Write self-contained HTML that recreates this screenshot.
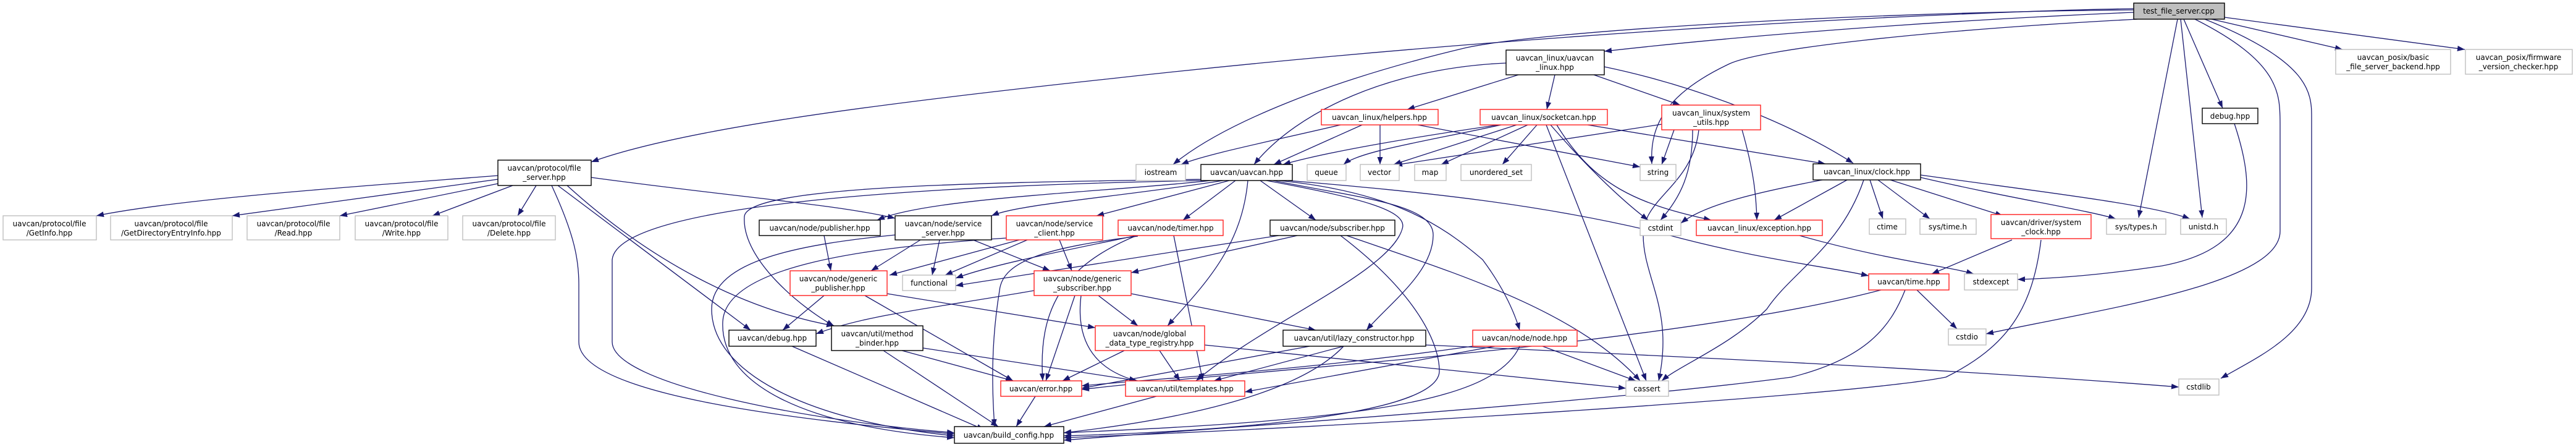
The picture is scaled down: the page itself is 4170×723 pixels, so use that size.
<!DOCTYPE html>
<html><head><meta charset="utf-8"><style>
html,body{margin:0;padding:0;background:#fff;}
svg{display:block;}
text{font-family:"DejaVu Sans","Liberation Sans",sans-serif;font-size:12px;fill:#000;text-anchor:middle;}
.e{fill:none;stroke:#191970;stroke-width:1.3;marker-end:url(#a);}
.k{fill:#fff;stroke:#000;stroke-width:1.4;}
.r{fill:#fff;stroke:#ff2020;stroke-width:1.4;}
.g{fill:#fff;stroke:#bfbfbf;stroke-width:1.4;}
</style></head><body>
<svg width="4170" height="723" viewBox="0 0 4170 723" xmlns="http://www.w3.org/2000/svg">
<defs><marker id="a" markerUnits="userSpaceOnUse" markerWidth="13" markerHeight="10" refX="12" refY="4.5" orient="auto"><path d="M0,0 L12,4.5 L0,9 z" fill="#191970"/></marker></defs>
<g>
<path class="e" d="M3454,14 C3100,20 2400,60 1800,127 C1400,170 1100,210 957,262"/>
<path class="e" d="M3454,16 C3000,20 2500,50 2374,77 C2150,130 1980,200 1899,266"/>
<path class="e" d="M3454,20 C3100,35 2800,60 2597,83"/>
<path class="e" d="M3460,31 C3100,50 2850,80 2800,103 C2700,150 2670,200 2674,265"/>
<path class="e" d="M3525,31 L3462,352"/>
<path class="e" d="M3530,31 L3565,352"/>
<path class="e" d="M3535,31 L3598,175"/>
<path class="e" d="M3553,31 C3690,100 3691,150 3691,200 L3691,374 C3691,460 3400,500 3215,540"/>
<path class="e" d="M3569,31 C3740,100 3742,150 3742,190 L3742,466 C3742,540 3650,580 3595,612"/>
<path class="e" d="M3580,31 L3792,80"/>
<path class="e" d="M3601,28 L3990,80"/>
<path class="e" d="M3617,200 C3650,300 3660,400 3500,430 C3400,445 3330,450 3266,452"/>
<path class="e" d="M2458,121 L2278,177"/>
<path class="e" d="M2517,121 L2504,177"/>
<path class="e" d="M2580,121 L2720,170"/>
<path class="e" d="M2438,102 C2250,110 2100,180 2030,266"/>
<path class="e" d="M2597,108 C2750,140 2900,200 3000,264"/>
<path class="e" d="M2170,202 C2050,230 1950,250 1912,266"/>
<path class="e" d="M2205,202 L2062,266"/>
<path class="e" d="M2234,202 L2234,266"/>
<path class="e" d="M2295,202 L2655,270"/>
<path class="e" d="M2426,202 C2300,220 2150,245 2077,266"/>
<path class="e" d="M2430,202 C2300,230 2200,245 2175,266"/>
<path class="e" d="M2455,202 L2256,266"/>
<path class="e" d="M2473,202 L2333,266"/>
<path class="e" d="M2488,202 L2432,266"/>
<path class="e" d="M2510,202 C2560,260 2620,320 2668,356"/>
<path class="e" d="M2520,202 C2580,300 2650,330 2770,356"/>
<path class="e" d="M2503,202 L2665,616"/>
<path class="e" d="M2570,202 L2955,265"/>
<path class="e" d="M2690,201 L2258,267"/>
<path class="e" d="M2710,210 L2690,266"/>
<path class="e" d="M2740,210 C2740,280 2720,320 2688,356"/>
<path class="e" d="M2820,210 C2840,280 2843,320 2844,356"/>
<path class="e" d="M2750,210 C2740,300 2660,320 2660,380 C2660,450 2710,500 2685,616"/>
<path class="e" d="M1960,292 C1800,310 1500,320 1420,356"/>
<path class="e" d="M1980,292 C1800,320 1650,330 1605,349"/>
<path class="e" d="M1990,292 L1775,349"/>
<path class="e" d="M2000,292 L1915,356"/>
<path class="e" d="M2040,292 L2130,356"/>
<path class="e" d="M2020,292 C2010,400 1950,460 1890,527"/>
<path class="e" d="M2061,292 C2200,320 2320,330 2320,380 C2320,440 2250,490 2212,534"/>
<path class="e" d="M2070,292 C2250,310 2330,360 2400,420 C2430,460 2450,500 2460,534"/>
<path class="e" d="M2085,292 C2300,310 2500,330 2700,380 C2850,420 2950,430 3025,446"/>
<path class="e" d="M2050,292 C2200,320 2280,340 2270,370 C2250,440 2050,520 1936,616"/>
<path class="e" d="M1950,292 C1500,300 1000,330 991,420 L991,553 C991,620 1300,680 1545,700"/>
<path class="e" d="M1449,380 C1300,395 1152,420 1152,500 C1152,600 1300,680 1545,705"/>
<path class="e" d="M1629,385 C1400,400 1175,430 1170,520 C1165,620 1300,690 1545,708"/>
<path class="e" d="M893,300 C930,380 937,420 937,460 L937,553 C937,640 1300,680 1545,702"/>
<path class="e" d="M1950,290 C1600,295 1210,300 1205,350 C1200,420 1300,500 1350,527"/>
<path class="e" d="M1334,381 L1345,438"/>
<path class="e" d="M1490,388 L1410,438"/>
<path class="e" d="M1521,388 L1509,445"/>
<path class="e" d="M1575,388 L1700,438"/>
<path class="e" d="M1650,388 L1440,445"/>
<path class="e" d="M1663,388 L1530,445"/>
<path class="e" d="M1715,388 L1735,438"/>
<path class="e" d="M1840,381 C1700,410 1600,430 1547,450"/>
<path class="e" d="M1840,381 C1720,430 1680,500 1688,616"/>
<path class="e" d="M1900,381 L1947,616"/>
<path class="e" d="M1842,382 C1700,400 1623,420 1618,470 C1605,550 1605,620 1610,690"/>
<path class="e" d="M2070,381 L1547,462"/>
<path class="e" d="M2100,381 L1831,441"/>
<path class="e" d="M2180,381 C2350,440 2550,500 2655,616"/>
<path class="e" d="M2170,381 C2300,480 2330,560 2330,600 C2330,680 1900,700 1722,705"/>
<path class="e" d="M1334,478 L1267,534"/>
<path class="e" d="M1400,478 L1640,616"/>
<path class="e" d="M1436,475 L1773,530"/>
<path class="e" d="M1674,470 C1500,500 1400,510 1321,540"/>
<path class="e" d="M1778,478 L1842,527"/>
<path class="e" d="M1740,478 L1693,616"/>
<path class="e" d="M1750,478 C1740,560 1780,600 1840,616"/>
<path class="e" d="M1831,475 L2130,534"/>
<path class="e" d="M1460,567 L1640,616"/>
<path class="e" d="M1475,560 L1842,616"/>
<path class="e" d="M1430,567 L1616,690"/>
<path class="e" d="M1282,560 L1593,695"/>
<path class="e" d="M1820,567 L1720,616"/>
<path class="e" d="M1877,567 L1910,616"/>
<path class="e" d="M1950,558 L2632,628"/>
<path class="e" d="M2120,560 L1751,628"/>
<path class="e" d="M2175,560 L1965,616"/>
<path class="e" d="M2175,560 C2100,640 1900,680 1722,700"/>
<path class="e" d="M2308,558 C2800,580 3200,600 3527,626"/>
<path class="e" d="M2384,560 C2100,600 1900,610 1751,624"/>
<path class="e" d="M2420,560 L2015,634"/>
<path class="e" d="M2497,560 L2648,616"/>
<path class="e" d="M2460,560 C2420,650 2200,680 1722,700"/>
<path class="e" d="M1676,641 L1645,690"/>
<path class="e" d="M1872,641 L1690,690"/>
<path class="e" d="M2990,291 L2872,356"/>
<path class="e" d="M2955,290 C2850,310 2760,330 2721,361"/>
<path class="e" d="M3027,291 L3048,354"/>
<path class="e" d="M3040,291 L3124,354"/>
<path class="e" d="M3060,291 L3242,349"/>
<path class="e" d="M3109,287 C3250,320 3380,340 3425,354"/>
<path class="e" d="M3109,283 C3300,310 3480,330 3545,354"/>
<path class="e" d="M3017,291 C2980,400 2900,440 2860,500 C2800,560 2720,590 2690,616"/>
<path class="e" d="M2913,381 C3050,420 3150,430 3195,443"/>
<path class="e" d="M3257,388 L3127,443"/>
<path class="e" d="M3304,388 C3290,500 3250,560 3150,610 C3000,640 2200,690 1722,708"/>
<path class="e" d="M3103,469 L3168,532"/>
<path class="e" d="M3045,469 C2700,560 2000,600 1751,630"/>
<path class="e" d="M3084,469 C3060,530 3020,580 2900,610 C2600,650 2000,690 1722,712"/>
<path class="e" d="M806,284 C600,300 300,320 156,349"/>
<path class="e" d="M806,290 L376,349"/>
<path class="e" d="M806,297 L550,349"/>
<path class="e" d="M830,300 L700,349"/>
<path class="e" d="M868,300 L838,349"/>
<path class="e" d="M957,287 C1200,320 1350,330 1449,353"/>
<path class="e" d="M903,300 L1215,534"/>
<path class="e" d="M918,300 C1050,420 1200,500 1350,527"/>
</g>
<g>
<rect x="3454" y="5" width="147" height="26" fill="#bfbfbf" stroke="#000" stroke-width="1.4"/><text x="3527" y="22">test_file_server.cpp</text>
<rect class="g" x="3781" y="80" width="186" height="40"/><text x="3874" y="97">uavcan_posix/basic</text><text x="3874" y="112">_file_server_backend.hpp</text>
<rect class="g" x="3991" y="80" width="173" height="40"/><text x="4077" y="97">uavcan_posix/firmware</text><text x="4077" y="112">_version_checker.hpp</text>
<rect class="k" x="2438" y="81" width="159" height="40"/><text x="2517" y="98">uavcan_linux/uavcan</text><text x="2517" y="113">_linux.hpp</text>
<rect class="r" x="2139" y="177" width="189" height="25"/><text x="2233" y="194">uavcan_linux/helpers.hpp</text>
<rect class="r" x="2396" y="177" width="206" height="25"/><text x="2499" y="194">uavcan_linux/socketcan.hpp</text>
<rect class="r" x="2690" y="170" width="160" height="40"/><text x="2770" y="187">uavcan_linux/system</text><text x="2770" y="202">_utils.hpp</text>
<rect class="k" x="3565" y="175" width="90" height="25"/><text x="3610" y="192">debug.hpp</text>
<rect class="k" x="806" y="259" width="151" height="41"/><text x="881" y="276">uavcan/protocol/file</text><text x="881" y="291">_server.hpp</text>
<rect class="g" x="1839" y="266" width="80" height="26"/><text x="1879" y="283">iostream</text>
<rect class="k" x="1944" y="266" width="148" height="26"/><text x="2018" y="283">uavcan/uavcan.hpp</text>
<rect class="g" x="2116" y="266" width="63" height="26"/><text x="2147" y="283">queue</text>
<rect class="g" x="2202" y="266" width="63" height="26"/><text x="2233" y="283">vector</text>
<rect class="g" x="2290" y="266" width="51" height="26"/><text x="2315" y="283">map</text>
<rect class="g" x="2365" y="266" width="114" height="26"/><text x="2422" y="283">unordered_set</text>
<rect class="g" x="2655" y="266" width="58" height="26"/><text x="2684" y="283">string</text>
<rect class="k" x="2935" y="265" width="174" height="26"/><text x="3022" y="282">uavcan_linux/clock.hpp</text>
<rect class="g" x="5" y="349" width="151" height="39"/><text x="80" y="366">uavcan/protocol/file</text><text x="80" y="381">/GetInfo.hpp</text>
<rect class="g" x="179" y="349" width="197" height="39"/><text x="277" y="366">uavcan/protocol/file</text><text x="277" y="381">/GetDirectoryEntryInfo.hpp</text>
<rect class="g" x="400" y="349" width="150" height="39"/><text x="475" y="366">uavcan/protocol/file</text><text x="475" y="381">/Read.hpp</text>
<rect class="g" x="575" y="349" width="150" height="39"/><text x="650" y="366">uavcan/protocol/file</text><text x="650" y="381">/Write.hpp</text>
<rect class="g" x="749" y="349" width="150" height="39"/><text x="824" y="366">uavcan/protocol/file</text><text x="824" y="381">/Delete.hpp</text>
<rect class="k" x="1229" y="356" width="196" height="25"/><text x="1327" y="373">uavcan/node/publisher.hpp</text>
<rect class="k" x="1449" y="349" width="156" height="39"/><text x="1527" y="366">uavcan/node/service</text><text x="1527" y="381">_server.hpp</text>
<rect class="r" x="1629" y="349" width="156" height="39"/><text x="1707" y="366">uavcan/node/service</text><text x="1707" y="381">_client.hpp</text>
<rect class="r" x="1810" y="356" width="170" height="25"/><text x="1895" y="373">uavcan/node/timer.hpp</text>
<rect class="k" x="2056" y="356" width="202" height="25"/><text x="2157" y="373">uavcan/node/subscriber.hpp</text>
<rect class="g" x="2655" y="356" width="66" height="25"/><text x="2688" y="373">cstdint</text>
<rect class="r" x="2746" y="356" width="204" height="25"/><text x="2848" y="373">uavcan_linux/exception.hpp</text>
<rect class="g" x="3026" y="354" width="59" height="25"/><text x="3055" y="371">ctime</text>
<rect class="g" x="3108" y="354" width="91" height="25"/><text x="3153" y="371">sys/time.h</text>
<rect class="r" x="3223" y="347" width="162" height="39"/><text x="3304" y="364">uavcan/driver/system</text><text x="3304" y="379">_clock.hpp</text>
<rect class="g" x="3410" y="354" width="96" height="25"/><text x="3458" y="371">sys/types.h</text>
<rect class="g" x="3530" y="354" width="74" height="25"/><text x="3567" y="371">unistd.h</text>
<rect class="r" x="1279" y="438" width="157" height="40"/><text x="1357" y="455">uavcan/node/generic</text><text x="1357" y="470">_publisher.hpp</text>
<rect class="g" x="1461" y="445" width="86" height="25"/><text x="1504" y="462">functional</text>
<rect class="r" x="1674" y="438" width="157" height="40"/><text x="1752" y="455">uavcan/node/generic</text><text x="1752" y="470">_subscriber.hpp</text>
<rect class="r" x="3025" y="443" width="130" height="26"/><text x="3090" y="460">uavcan/time.hpp</text>
<rect class="g" x="3180" y="443" width="86" height="26"/><text x="3223" y="460">stdexcept</text>
<rect class="k" x="1180" y="534" width="141" height="26"/><text x="1250" y="551">uavcan/debug.hpp</text>
<rect class="k" x="1346" y="527" width="148" height="40"/><text x="1420" y="544">uavcan/util/method</text><text x="1420" y="559">_binder.hpp</text>
<rect class="r" x="1773" y="527" width="177" height="40"/><text x="1861" y="544">uavcan/node/global</text><text x="1861" y="559">_data_type_registry.hpp</text>
<rect class="k" x="2077" y="534" width="231" height="26"/><text x="2192" y="551">uavcan/util/lazy_constructor.hpp</text>
<rect class="r" x="2384" y="534" width="169" height="26"/><text x="2468" y="551">uavcan/node/node.hpp</text>
<rect class="g" x="3154" y="532" width="61" height="26"/><text x="3184" y="549">cstdio</text>
<rect class="r" x="1620" y="616" width="131" height="25"/><text x="1685" y="633">uavcan/error.hpp</text>
<rect class="r" x="1822" y="616" width="193" height="25"/><text x="1918" y="633">uavcan/util/templates.hpp</text>
<rect class="g" x="2632" y="616" width="69" height="25"/><text x="2666" y="633">cassert</text>
<rect class="g" x="3527" y="613" width="65" height="26"/><text x="3559" y="630">cstdlib</text>
<rect class="k" x="1545" y="690" width="177" height="27"/><text x="1633" y="708">uavcan/build_config.hpp</text>
</g>
</svg>
</body></html>
